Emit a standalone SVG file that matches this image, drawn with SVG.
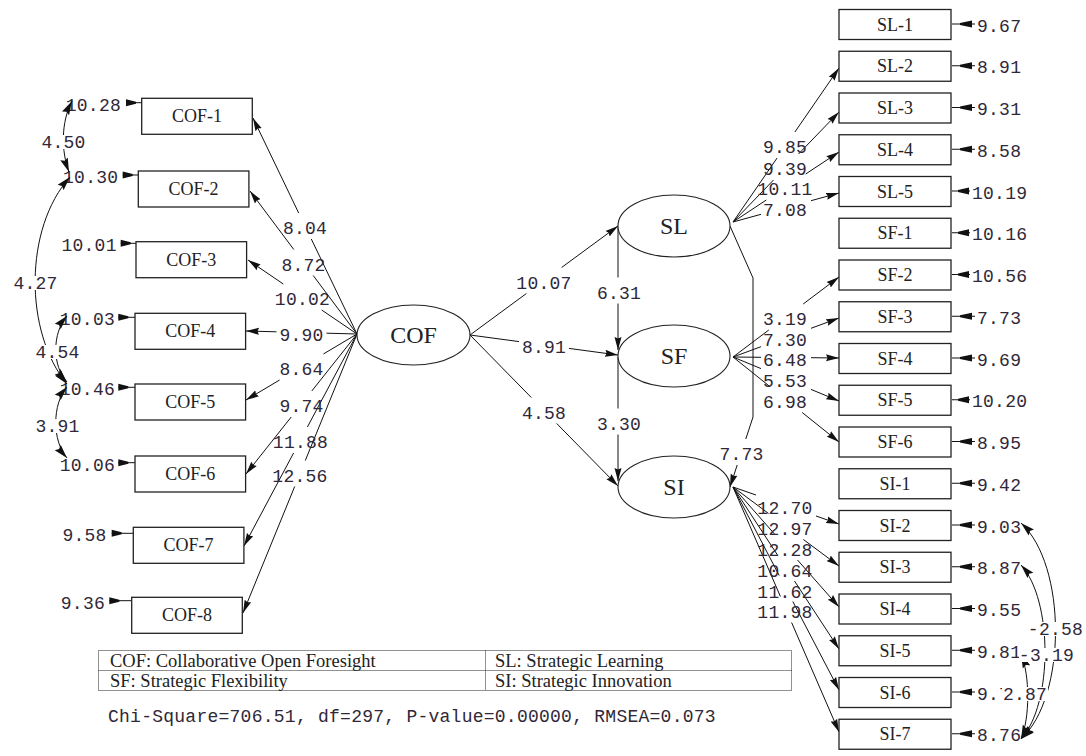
<svg xmlns="http://www.w3.org/2000/svg" xmlns:xlink="http://www.w3.org/1999/xlink" width="1086" height="756" viewBox="0 0 1086 756">
<style>
.box{fill:#fff;stroke:#222;stroke-width:1.3}
.ell{fill:#fff;stroke:#222;stroke-width:1.1}
.lbl{font-family:"Liberation Serif","Times New Roman",serif;font-size:18px;fill:#222;text-anchor:middle}
.lat{font-family:"Liberation Serif","Times New Roman",serif;font-size:24px;fill:#222;text-anchor:middle}
.num{font-family:"Liberation Mono","Courier New",monospace;font-size:18px;letter-spacing:0.25px;fill:#302838}
.mid{text-anchor:middle}
.end{text-anchor:end}
.ln{fill:none;stroke:#111;stroke-width:1}
.arr{marker-end:url(#ah)}
.cov{fill:none;stroke:#111;stroke-width:1;marker-start:url(#ah2);marker-end:url(#ah2)}
.bg{fill:#fff}
.leg{fill:none;stroke:#222;stroke-width:1;stroke-dasharray:1 1}
.legt{font-family:"Liberation Serif","Times New Roman",serif;font-size:18.5px;fill:#222}
</style>
<defs>
<marker id="ah" markerUnits="userSpaceOnUse" viewBox="0 0 13 8" markerWidth="13" markerHeight="8" refX="13" refY="4" orient="auto-start-reverse">
<path d="M0,0.5 L13,4 L0,7.5 L1.5,4 z" fill="#111"/>
</marker>
<marker id="ah2" markerUnits="userSpaceOnUse" viewBox="0 0 14 9" markerWidth="14" markerHeight="9" refX="14" refY="4.5" orient="auto-start-reverse">
<path d="M0,0.5 L14,4.5 L0,8.5 L2,4.5 z" fill="#111"/>
</marker>
<g id="eR4"><line x1="0" y1="0" x2="23" y2="0" stroke="#111" stroke-width="1"/><polygon points="8,-1 20,-3.5 20,3.5 8,1" fill="#111"/></g>
<g id="eR5"><line x1="0" y1="0" x2="18" y2="0" stroke="#111" stroke-width="1"/><polygon points="6,-1 17,-3.5 17,3.5 6,1" fill="#111"/></g>
<polygon id="eLh" points="0,-3.5 10,-1 10,1 0,3.5" fill="#111"/>
</defs>
<rect width="1086" height="756" fill="#fff"/>

<g id="connectors">
<path class="ln arr" d="M357,334 L311.3,239 M298.7,213 L253,118"/>
<path class="ln arr" d="M357,334 L313.2,275.5 M293.8,249.5 L250,191"/>
<path class="ln arr" d="M357,334 L321.7,310 M283.3,284 L248,260"/>
<path class="ln arr" d="M357,334 L326.5,333.2 M276.5,331.8 L246,331"/>
<path class="ln arr" d="M357,334 L323.4,354 M279.6,380 L246,400"/>
<path class="ln arr" d="M357,334 L311.8,391 M291.2,417 L246,474"/>
<path class="ln arr" d="M357,334 L307.4,427 M293.6,453 L244,546"/>
<path class="ln arr" d="M357,334 L305.3,460.5 M294.7,486.5 L243,613"/>

<path class="ln arr" d="M470,335 L526.4,293.5 M561.6,267.5 L618,226"/>
<path class="ln arr" d="M470,335 L519,341.6 M569,348.4 L618,355"/>
<path class="ln arr" d="M470,335 L531.3,397.5 M556.7,423.5 L618,486"/>
<path class="ln arr" d="M618,226 L618,277.5 M618,303.5 L618,350"/>
<path class="ln arr" d="M618,357 L618,408.5 M618,434.5 L618,481"/>
<path class="ln arr" d="M730,226 L753,278 L753,417 L745.8,439 M737.2,465 L730,487"/>

<path class="ln arr" d="M733,222 L777.1,158 M794.9,132 L839,68"/>
<path class="ln arr" d="M733,222 L773.5,180 M798.5,154 L839,112"/>
<path class="ln arr" d="M733,222 L766.3,200 M805.7,174 L839,152"/>
<path class="ln arr" d="M733,222 L761,214.3 M811,200.7 L839,193"/>

<path class="ln arr" d="M733,357 L768.8,330 M803.2,304 L839,277"/>
<path class="ln arr" d="M733,357 L761,346.7 M811,328.3 L839,318"/>
<path class="ln arr" d="M733,357 L761,357.3 M811,357.7 L839,358"/>
<path class="ln arr" d="M733,357 L761,368.6 M811,389.4 L839,401"/>
<path class="ln arr" d="M733,357 L769.8,386.5 M802.2,412.5 L839,442"/>

<path class="ln arr" d="M733,487 L756,495 M816,516 L839,524"/>
<path class="ln arr" d="M733,487 L768.6,513.5 M803.4,539.5 L839,566"/>
<path class="ln arr" d="M733,487 L774.5,534 M797.5,560 L839,607"/>
<path class="ln arr" d="M733,487 L777.5,555 M794.5,581 L839,649"/>
<path class="ln arr" d="M733,487 L779.2,575.5 M792.8,601.5 L839,690"/>
<path class="ln arr" d="M733,487 L780.4,596.5 M791.6,622.5 L839,732"/>

<g stroke="#111" stroke-width="1">
<line x1="126" y1="102.7" x2="141.7" y2="102.7"/>
<line x1="122.7" y1="175" x2="138.3" y2="175"/>
<line x1="120.7" y1="243.3" x2="136" y2="243.3"/>
<line x1="118.3" y1="317.3" x2="135" y2="317.3"/>
<line x1="118.3" y1="387.3" x2="135" y2="387.3"/>
<line x1="118.3" y1="462.7" x2="135" y2="462.7"/>
<line x1="111.7" y1="533.3" x2="133.3" y2="533.3"/>
<line x1="109.3" y1="600.7" x2="131.7" y2="600.7"/>
</g>
<use href="#eLh" x="126" y="102.7"/>
<use href="#eLh" x="122.7" y="175"/>
<use href="#eLh" x="120.7" y="243.3"/>
<use href="#eLh" x="118.3" y="317.3"/>
<use href="#eLh" x="118.3" y="387.3"/>
<use href="#eLh" x="118.3" y="462.7"/>
<use href="#eLh" x="111.7" y="533.3"/>
<use href="#eLh" x="109.3" y="600.7"/>

<use href="#eR4" x="952" y="24"/>
<use href="#eR4" x="952" y="65.75"/>
<use href="#eR4" x="952" y="107.5"/>
<use href="#eR4" x="952" y="149.25"/>
<use href="#eR5" x="952" y="191"/>
<use href="#eR5" x="952" y="232.75"/>
<use href="#eR5" x="952" y="274.5"/>
<use href="#eR4" x="952" y="316.25"/>
<use href="#eR4" x="952" y="358"/>
<use href="#eR5" x="952" y="399.75"/>
<use href="#eR4" x="952" y="441.5"/>
<use href="#eR4" x="952" y="483.25"/>
<use href="#eR4" x="952" y="525"/>
<use href="#eR4" x="952" y="566.75"/>
<use href="#eR4" x="952" y="608.5"/>
<use href="#eR4" x="952" y="650.25"/>
<use href="#eR4" x="952" y="692"/>
<use href="#eR4" x="952" y="733.75"/>
</g>

<g id="loading-labels" class="num mid">
<text x="305" y="234">8.04</text>
<text x="303.5" y="270.5">8.72</text>
<text x="302.5" y="305">10.02</text>
<text x="301.5" y="340.5">9.90</text>
<text x="301.5" y="375">8.64</text>
<text x="301.5" y="412">9.74</text>
<text x="300.5" y="448">11.88</text>
<text x="300" y="481.5">12.56</text>
<text x="544" y="288.5">10.07</text>
<text x="544" y="353">8.91</text>
<text x="544" y="418.5">4.58</text>
<text x="619" y="298.5">6.31</text>
<text x="619" y="429.5">3.30</text>
<text x="741.5" y="460">7.73</text>
<text x="785" y="153">9.85</text>
<text x="785" y="175">9.39</text>
<text x="785" y="195">10.11</text>
<text x="785" y="215.5">7.08</text>
<text x="785" y="325">3.19</text>
<text x="785" y="345.5">7.30</text>
<text x="785" y="365.5">6.48</text>
<text x="785" y="387">5.53</text>
<text x="785" y="407.5">6.98</text>
<text x="785" y="514">12.70</text>
<text x="785" y="535">12.97</text>
<text x="785" y="556">12.28</text>
<text x="785" y="577">10.64</text>
<text x="785" y="597.5">11.62</text>
<text x="785" y="618">11.98</text>
</g>

<g id="error-labels" class="num">
<text class="end" x="121" y="110.7">10.28</text>
<text class="end" x="118.3" y="183">10.30</text>
<text class="end" x="116.7" y="251.3">10.01</text>
<text class="end" x="115" y="325.3">10.03</text>
<text class="end" x="115" y="395.3">10.46</text>
<text class="end" x="115" y="470.7">10.06</text>
<text class="end" x="106.7" y="541.3">9.58</text>
<text class="end" x="105" y="608.7">9.36</text>
<text x="977" y="31.5">9.67</text>
<text x="977" y="73.25">8.91</text>
<text x="977" y="115">9.31</text>
<text x="977" y="156.75">8.58</text>
<text x="972" y="198.5">10.19</text>
<text x="972" y="240.25">10.16</text>
<text x="972" y="282">10.56</text>
<text x="977" y="323.75">7.73</text>
<text x="977" y="365.5">9.69</text>
<text x="972" y="407.25">10.20</text>
<text x="977" y="449">8.95</text>
<text x="977" y="490.75">9.42</text>
<text x="977" y="532.5">9.03</text>
<text x="977" y="574.25">8.87</text>
<text x="977" y="616">9.55</text>
<text x="977" y="657.75">9.81</text>
<text x="977" y="699.5">9.72</text>
<text x="977" y="741.25">8.76</text>
</g>

<g id="covariances">
<path class="cov" d="M72,101 C61,122 61,151 69,172"/>
<path class="cov" d="M70,177 C24,228 24,332 67,384"/>
<path class="cov" d="M67,316 C52,333 52,366 67,382"/>
<path class="cov" d="M67,387 C52,404 52,441 67,458"/>
<path class="cov" d="M1021,523 C1067,565 1067,697 1021,739"/>
<path class="cov" d="M1021,565 C1053,600 1053,704 1021,739"/>
<path class="cov" d="M1021,654 C1030,675 1030,718 1021,739"/>
<g id="cov-labels">
<rect class="bg" x="41" y="135" width="45" height="14"/>
<text class="num mid" x="63.5" y="148">4.50</text>
<rect class="bg" x="13" y="276" width="45" height="14"/>
<text class="num mid" x="35.5" y="289">4.27</text>
<rect class="bg" x="35" y="345" width="45" height="14"/>
<text class="num mid" x="57.5" y="358">4.54</text>
<rect class="bg" x="35" y="419" width="45" height="14"/>
<text class="num mid" x="57.5" y="432">3.91</text>
<rect class="bg" x="1028" y="622" width="55" height="14"/>
<text class="num mid" x="1055.5" y="635">-2.58</text>
<rect class="bg" x="1019" y="648" width="55" height="14"/>
<text class="num mid" x="1046.5" y="661">-3.19</text>
<rect class="bg" x="1002" y="687" width="46" height="14"/>
<text class="num mid" x="1025" y="700">2.87</text>
</g>
</g>

<g id="COF"><ellipse class="ell" cx="413.5" cy="335" rx="56.5" ry="30"/><text class="lat" x="413.5" y="343">COF</text></g>
<g id="SL"><ellipse class="ell" cx="674" cy="226" rx="56" ry="31"/><text class="lat" x="674" y="234">SL</text></g>
<g id="SF"><ellipse class="ell" cx="674" cy="356" rx="56" ry="31"/><text class="lat" x="674" y="364">SF</text></g>
<g id="SI"><ellipse class="ell" cx="674" cy="487" rx="56" ry="31"/><text class="lat" x="674" y="495">SI</text></g>

<g id="COF-1"><rect class="box" x="141.7" y="98.3" width="110.6" height="36"/><text class="lbl" x="197" y="122.3">COF-1</text></g>
<g id="COF-2"><rect class="box" x="138.3" y="171" width="110.6" height="36"/><text class="lbl" x="193.6" y="195">COF-2</text></g>
<g id="COF-3"><rect class="box" x="136" y="241.7" width="110.6" height="36"/><text class="lbl" x="191.3" y="265.7">COF-3</text></g>
<g id="COF-4"><rect class="box" x="135" y="313.3" width="110.6" height="36"/><text class="lbl" x="190.3" y="337.3">COF-4</text></g>
<g id="COF-5"><rect class="box" x="135" y="384" width="110.6" height="36"/><text class="lbl" x="190.3" y="408">COF-5</text></g>
<g id="COF-6"><rect class="box" x="135" y="456" width="110.6" height="36"/><text class="lbl" x="190.3" y="480">COF-6</text></g>
<g id="COF-7"><rect class="box" x="133.3" y="527.3" width="110.6" height="36"/><text class="lbl" x="188.6" y="551.3">COF-7</text></g>
<g id="COF-8"><rect class="box" x="131.7" y="597.3" width="110.6" height="36"/><text class="lbl" x="187" y="621.3">COF-8</text></g>

<g id="SL-1"><rect class="box" x="839" y="9.5" width="112" height="30"/><text class="lbl" x="895" y="30.5">SL-1</text></g>
<g id="SL-2"><rect class="box" x="839" y="51.25" width="112" height="30"/><text class="lbl" x="895" y="72.25">SL-2</text></g>
<g id="SL-3"><rect class="box" x="839" y="93" width="112" height="30"/><text class="lbl" x="895" y="114">SL-3</text></g>
<g id="SL-4"><rect class="box" x="839" y="134.75" width="112" height="30"/><text class="lbl" x="895" y="155.75">SL-4</text></g>
<g id="SL-5"><rect class="box" x="839" y="176.5" width="112" height="30"/><text class="lbl" x="895" y="197.5">SL-5</text></g>
<g id="SF-1"><rect class="box" x="839" y="218.25" width="112" height="30"/><text class="lbl" x="895" y="239.25">SF-1</text></g>
<g id="SF-2"><rect class="box" x="839" y="260" width="112" height="30"/><text class="lbl" x="895" y="281">SF-2</text></g>
<g id="SF-3"><rect class="box" x="839" y="301.75" width="112" height="30"/><text class="lbl" x="895" y="322.75">SF-3</text></g>
<g id="SF-4"><rect class="box" x="839" y="343.5" width="112" height="30"/><text class="lbl" x="895" y="364.5">SF-4</text></g>
<g id="SF-5"><rect class="box" x="839" y="385.25" width="112" height="30"/><text class="lbl" x="895" y="406.25">SF-5</text></g>
<g id="SF-6"><rect class="box" x="839" y="427" width="112" height="30"/><text class="lbl" x="895" y="448">SF-6</text></g>
<g id="SI-1"><rect class="box" x="839" y="468.75" width="112" height="30"/><text class="lbl" x="895" y="489.75">SI-1</text></g>
<g id="SI-2"><rect class="box" x="839" y="510.5" width="112" height="30"/><text class="lbl" x="895" y="531.5">SI-2</text></g>
<g id="SI-3"><rect class="box" x="839" y="552.25" width="112" height="30"/><text class="lbl" x="895" y="573.25">SI-3</text></g>
<g id="SI-4"><rect class="box" x="839" y="594" width="112" height="30"/><text class="lbl" x="895" y="615">SI-4</text></g>
<g id="SI-5"><rect class="box" x="839" y="635.75" width="112" height="30"/><text class="lbl" x="895" y="656.75">SI-5</text></g>
<g id="SI-6"><rect class="box" x="839" y="677.5" width="112" height="30"/><text class="lbl" x="895" y="698.5">SI-6</text></g>
<g id="SI-7"><rect class="box" x="839" y="719.25" width="112" height="30"/><text class="lbl" x="895" y="740.25">SI-7</text></g>

<g id="legend">
<rect class="leg" x="98.5" y="650.5" width="693" height="40"/>
<line class="leg" x1="98.5" y1="670.5" x2="791.5" y2="670.5"/>
<line class="leg" x1="485.5" y1="650.5" x2="485.5" y2="690.5"/>
<text class="legt" x="110" y="666.5">COF: Collaborative Open Foresight</text>
<text class="legt" x="495" y="666.5">SL: Strategic Learning</text>
<text class="legt" x="110" y="686.5">SF: Strategic Flexibility</text>
<text class="legt" x="495" y="686.5">SI: Strategic Innovation</text>
</g>
<text id="fit" class="num" x="108" y="722">Chi-Square=706.51, df=297, P-value=0.00000, RMSEA=0.073</text>
</svg>
